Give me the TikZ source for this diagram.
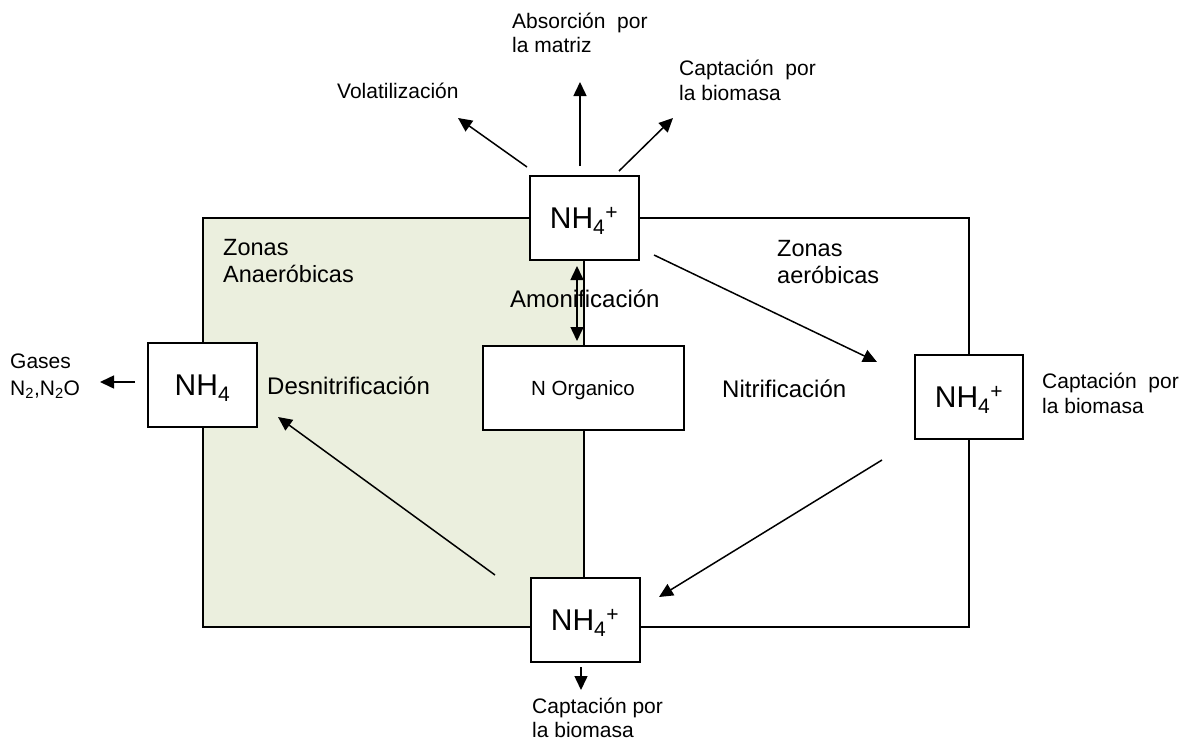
\documentclass[tikz,border=0pt]{standalone}
\usepackage{fontspec}
\setmainfont{Liberation Sans}
\usetikzlibrary{arrows.meta}
\definecolor{anaer}{RGB}{235,239,222}
\newcommand\mlines[1]{\begin{tabular}[t]{@{}l@{}}#1\end{tabular}}
\newcommand\fs[2]{\fontsize{#1}{#2}\selectfont}
\begin{document}
\begin{tikzpicture}[x=1pt,y=-1pt,
  box/.style={draw, line width=2pt, fill=white, minimum width=109pt, minimum height=84pt, inner sep=0pt, font=\fs{30}{36}, text depth=0pt},
  wire/.style={line width=2pt},
  arr/.style={line width=1.5pt, -{Triangle[length=14pt,width=13pt]}},
  lbl/.style={anchor=base west, inner sep=0pt, font=\fs{21}{24.5}},
  proc/.style={anchor=base west, inner sep=0pt, font=\fs{24}{27}}]
\useasboundingbox (0,0) rectangle (1186,742);
% anaerobic zone
\fill[anaer] (202.5,218) rectangle (584,627);
% boxes
\node[box] (top) at (584,218) {NH\textsubscript{4}\textsuperscript{+}};
\node[box] (lft) at (202.5,385) {NH\textsubscript{4}};
\node[box, minimum width=201pt, font=\fs{20.5}{24}] (org) at (583,388) {N Organico};
\node[box, minimum width=108pt] (rgt) at (969,397) {NH\textsubscript{4}\textsuperscript{+}};
\node[box] (bot) at (585,620) {NH\textsubscript{4}\textsuperscript{+}};
% frame
\coordinate (tr) at (969,218);
\coordinate (bl) at (202.5,627);
\coordinate (br) at (969,627);
\draw[wire] (top.west) -| (lft.north);
\draw[wire] (lft.south) -- (bl) -- (bot.west |- bl);
\draw[wire] (top.east) -- (tr) -- (rgt.north);
\draw[wire] (rgt.south) -- (br) -- (bot.east |- br);
\draw[wire] (top.south) -- (top.south |- org.north);
\draw[wire] (top.south |- org.south) -- (top.south |- bot.north);
% free ends
\coordinate (volT) at (527,167);
\coordinate (volH) at (458,118);
\coordinate (absT) at (580,166);
\coordinate (absH) at (580,82);
\coordinate (capT) at (619,171);
\coordinate (capH) at (673,118);
\coordinate (gasT) at (135,382);
\coordinate (gasH) at (100,382);
\coordinate (denT) at (495,575);
\coordinate (denH) at (278,417);
\coordinate (nitT) at (654,255);
\coordinate (nitH) at (877,362);
\coordinate (rbT) at (882,460);
\coordinate (rbH) at (659,597);
\coordinate (dnH) at (581,690);
% arrows
\draw[arr] (volT) -- (volH);
\draw[arr] (absT) -- (absH);
\draw[arr] (capT) -- (capH);
\draw[arr] (gasT) -- (gasH);
\draw[arr] (denT) -- (denH);
\draw[arr] (nitT) -- (nitH);
\draw[arr] (rbT) -- (rbH);
\draw[arr, shorten <=4pt] ([xshift=-4pt]bot.south) -- (dnH);
\draw[line width=1.5pt, {Triangle[length=14pt,width=13pt]}-{Triangle[length=14pt,width=13pt]}, shorten <=5pt, shorten >=4pt] ([xshift=-7pt]top.south) -- ([xshift=-6pt]org.north);
% labels
\node[lbl] (vol) at (337,98) {Volatilización};
\node[lbl] (abs) at (512,28) {\mlines{Absorción\ \ por\\la matriz}};
\node[lbl, font=\fs{21}{25.5}] (cap1) at (679,75) {\mlines{Captación\ \ por\\la biomasa}};
\node[proc, font=\fs{23.5}{27}] (zan) at (223,255) {\mlines{Zonas\\Anaeróbicas}};
\node[proc, font=\fs{23.5}{27}] (zae) at (777,256) {\mlines{Zonas\\aeróbicas}};
\node[proc] (den) at (267,394) {Desnitrificación};
\node[proc] (nit) at (722,397) {Nitrificación};
\node[proc] (amo) at (510,307) {Amonificación};
\node[lbl, font=\fs{21}{27}] (gas) at (10,368) {\mlines{Gases\\N\textsubscript{2},N\textsubscript{2}O}};
\node[lbl, font=\fs{21}{25}] (cap2) at (1042,388) {\mlines{Captación\ \ por\\la biomasa}};
\node[lbl] (cap3) at (532,713) {\mlines{Captación por\\la biomasa}};
\end{tikzpicture}
\end{document}
